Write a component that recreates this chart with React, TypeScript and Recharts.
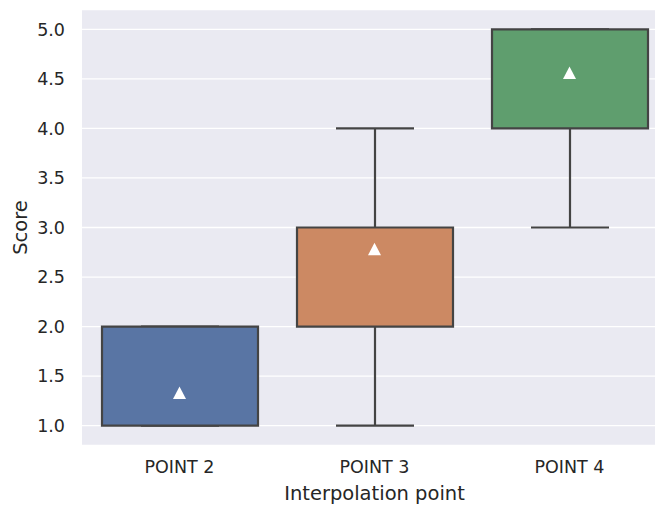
import { Bar, CartesianGrid, Cell, ComposedChart, Scatter, XAxis, YAxis } from 'recharts'

const categories = ['POINT 2', 'POINT 3', 'POINT 4']
const whiskerLow = [1, 1, 3]
const q1 = [1, 2, 4]
const q3 = [2, 3, 5]
const whiskerHigh = [2, 4, 5]
const means = [1.33, 2.78, 4.56]
const yTicks = [1, 1.5, 2, 2.5, 3, 3.5, 4, 4.5, 5]

const colors = ['#5975a4', '#cc8963', '#5f9e6e']
const EDGE = '#444444'
const TEXT = '#262626'
const BOX_W = 156

const data = categories.map((name, i) => ({
  name,
  whisker: [whiskerLow[i], whiskerHigh[i]],
  box: [q1[i], q3[i]],
  mean: means[i],
}))

const Whisker = (props: any) => {
  const { x, y, width, height } = props
  const cx = x + width / 2
  const cap = width / 4
  return (
    <g stroke={EDGE} strokeWidth={2.2}>
      <line x1={cx} x2={cx} y1={y} y2={y + height} />
      <line x1={cx - cap} x2={cx + cap} y1={y} y2={y} />
      <line x1={cx - cap} x2={cx + cap} y1={y + height} y2={y + height} />
    </g>
  )
}

const MeanMarker = (props: any) => {
  const { cx, cy } = props
  return <polygon points={`${cx},${cy - 6.5} ${cx - 6.5},${cy + 6} ${cx + 6.5},${cy + 6}`} fill="#fff" />
}

export default function App() {
  return (
    <div style={{ position: 'absolute', left: 0, top: 0, width: 655, height: 506, overflow: 'hidden', background: '#fff' }}>
      <ComposedChart
        width={680}
        height={506}
        data={data}
        margin={{ top: 9.5, right: 13, bottom: 0, left: 0 }}
        barGap={-BOX_W}
        style={{ fontFamily: 'DejaVu Sans' }}
      >
        <CartesianGrid vertical={false} stroke="#fff" strokeWidth={1.3} fill="#eaeaf2" />
        <XAxis
          dataKey="name"
          height={60.5}
          tickLine={false}
          axisLine={false}
          tickSize={0}
          tickMargin={15}
          tick={{ fontSize: 17.5, fill: TEXT }}
          label={{ value: 'Interpolation point', position: 'insideBottom', offset: 6, fontSize: 19.5, fill: TEXT }}
        />
        <YAxis
          width={82}
          domain={[0.8, 5.2]}
          ticks={yTicks}
          tickFormatter={(v) => Number(v).toFixed(1)}
          tickLine={false}
          axisLine={false}
          tickSize={0}
          tickMargin={17}
          tick={{ fontSize: 17.5, fill: TEXT }}
          label={{ value: 'Score', angle: -90, position: 'insideLeft', offset: 20, fontSize: 19.5, fill: TEXT, style: { textAnchor: 'middle' } }}
        />
        <Bar dataKey="whisker" barSize={BOX_W} shape={(p: any) => <Whisker {...p} />} isAnimationActive={false} />
        <Bar dataKey="box" barSize={BOX_W} stroke={EDGE} strokeWidth={2.2} isAnimationActive={false}>
          {data.map((d, i) => (
            <Cell key={d.name} fill={colors[i]} />
          ))}
        </Bar>
        <Scatter dataKey="mean" shape={(p: any) => <MeanMarker {...p} />} isAnimationActive={false} />
      </ComposedChart>
    </div>
  )
}
